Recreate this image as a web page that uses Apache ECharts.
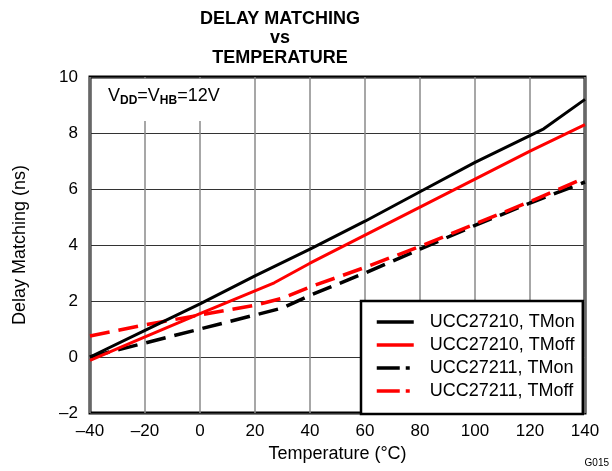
<!DOCTYPE html>
<html>
<head>
<meta charset="utf-8">
<script src="https://cdn.jsdelivr.net/npm/echarts@6/dist/echarts.min.js"></script>
<style>
html,body{margin:0;padding:0;background:#fff;}
#chart{width:612px;height:471px;}
</style>
</head>
<body>
<div id="chart"></div>
<script>
// ---- Data ----
const titleLines = ['DELAY MATCHING', 'vs', 'TEMPERATURE'];
const xName = 'Temperature (°C)';
const yName = 'Delay Matching (ns)';
const seriesNames = ['UCC27210, TMon', 'UCC27210, TMoff', 'UCC27211, TMon', 'UCC27211, TMoff'];

const ton210Temps = [-40, -20, 0, 20, 40, 60, 80, 100, 125, 140];
const ton210Vals  = [0.0, 0.95, 1.9, 2.9, 3.85, 4.85, 5.9, 6.95, 8.15, 9.2];

const toff210Temps = [-40, -20, 0, 27, 40, 60, 80, 100, 120, 140];
const toff210Vals  = [-0.12, 0.72, 1.55, 2.65, 3.35, 4.35, 5.35, 6.35, 7.35, 8.3];

const ton211Temps = [-40, -20, 0, 20, 30, 40, 60, 80, 100, 120, 140];
const ton211Vals  = [0.0, 0.5, 1.0, 1.5, 1.75, 2.2, 3.0, 3.85, 4.7, 5.5, 6.25];

const toff211Temps = [-40, -20, 0, 20, 30, 40, 60, 80, 100, 120, 140];
const toff211Vals  = [0.75, 1.15, 1.5, 1.85, 2.1, 2.5, 3.2, 3.95, 4.75, 5.55, 6.4];

const xMin = -40, xMax = 140, xStep = 20;
const yMin = -2, yMax = 10, yStep = 2;
const figId = 'G015';

// ---- Build ----
const FONT = '"Liberation Sans", Arial, Helvetica, sans-serif';
const pair = (t, v) => t.map((x, i) => [x, v[i]]);
const dashPlot = [20, 9];
const dashLegend = [23, 6, 4, 10];
const noSym = {color: 'rgba(0,0,0,0)', borderColor: 'rgba(0,0,0,0)', borderWidth: 0};

const chart = echarts.init(document.getElementById('chart'), null, {renderer: 'canvas'});
const option = {
  animation: false,
  backgroundColor: '#fff',
  textStyle: {fontFamily: FONT},
  title: {
    text: titleLines.join('\n'),
    left: 275, top: 4,
    textAlign: 'center',
    textStyle: {fontFamily: FONT, fontSize: 18, fontWeight: 'bold', color: '#000', lineHeight: 19.5}
  },
  grid: {
    left: 90, right: 27, top: 77, bottom: 58,
    show: true, borderColor: '#000', borderWidth: 3, backgroundColor: 'transparent'
  },
  xAxis: {
    type: 'value', min: xMin, max: xMax, interval: xStep,
    name: xName, nameLocation: 'middle', nameGap: 31,
    nameTextStyle: {fontFamily: FONT, fontSize: 18, color: '#000'},
    axisLine: {show: false}, axisTick: {show: false},
    axisLabel: {fontFamily: FONT, fontSize: 17, color: '#000', margin: 10,
      formatter: v => String(v).replace('-', '\u2013')},
    splitLine: {show: true, lineStyle: {color: '#8a8a8a', width: 1.5}}
  },
  yAxis: {
    type: 'value', min: yMin, max: yMax, interval: yStep,
    name: yName, nameLocation: 'middle', nameGap: 61,
    nameTextStyle: {fontFamily: FONT, fontSize: 18, color: '#000'},
    axisLine: {show: false}, axisTick: {show: false},
    axisLabel: {fontFamily: FONT, fontSize: 17, color: '#000', margin: 12,
      formatter: v => String(v).replace('-', '\u2013')},
    splitLine: {show: true, lineStyle: {color: '#333', width: 1}}
  },
  legend: {
    orient: 'vertical', left: 361, top: 301,
    padding: [12, 8, 14, 14],
    itemWidth: 37, itemHeight: 14, itemGap: 5,
    backgroundColor: '#fff', borderColor: '#000', borderWidth: 2.5, borderRadius: 0,
    textStyle: {fontFamily: FONT, fontSize: 18, color: '#000', lineHeight: 18, padding: [0, 0, 0, 11]},
    itemStyle: noSym,
    data: [
      {name: seriesNames[0], itemStyle: noSym, lineStyle: {width: 3.5}},
      {name: seriesNames[1], itemStyle: noSym, lineStyle: {width: 3.5}},
      {name: seriesNames[2], itemStyle: noSym, lineStyle: {width: 3.5, type: dashLegend}},
      {name: seriesNames[3], itemStyle: noSym, lineStyle: {width: 3.5, type: dashLegend}}
    ]
  },
  graphic: [
    {type: 'rect', left: 92, top: 79, z: 1, shape: {width: 150, height: 42}, style: {fill: '#fff'}},
    {type: 'text', left: 108, top: 87, z: 10, style: {
      text: '{a|V}{b|DD}{a|=V}{b|HB}{a|=12V}',
      rich: {
        a: {fontFamily: FONT, fontSize: 18, color: '#000', lineHeight: 22},
        b: {fontFamily: FONT, fontSize: 12, fontWeight: 'bold', color: '#000', lineHeight: 13, verticalAlign: 'bottom'}
      }
    }},
    {type: 'text', right: 3, top: 458, z: 10, style: {text: figId, fontFamily: FONT, fontSize: 10, fill: '#000'}}
  ],
  series: [
    {name: seriesNames[2], type: 'line', data: pair(ton211Temps, ton211Vals), showSymbol: false, symbol: 'none',
      lineStyle: {color: '#000', width: 3.5, type: dashPlot}, itemStyle: {color: '#000'}, z: 3},
    {name: seriesNames[3], type: 'line', data: pair(toff211Temps, toff211Vals), showSymbol: false, symbol: 'none',
      lineStyle: {color: '#ff0000', width: 3.5, type: dashPlot}, itemStyle: {color: '#ff0000'}, z: 3},
    {name: seriesNames[1], type: 'line', data: pair(toff210Temps, toff210Vals), showSymbol: false, symbol: 'none',
      lineStyle: {color: '#ff0000', width: 3}, itemStyle: {color: '#ff0000'}, z: 3},
    {name: seriesNames[0], type: 'line', data: pair(ton210Temps, ton210Vals), showSymbol: false, symbol: 'none',
      lineStyle: {color: '#000', width: 3}, itemStyle: {color: '#000'}, z: 3}
  ]
};
chart.setOption(option);
</script>
</body>
</html>
